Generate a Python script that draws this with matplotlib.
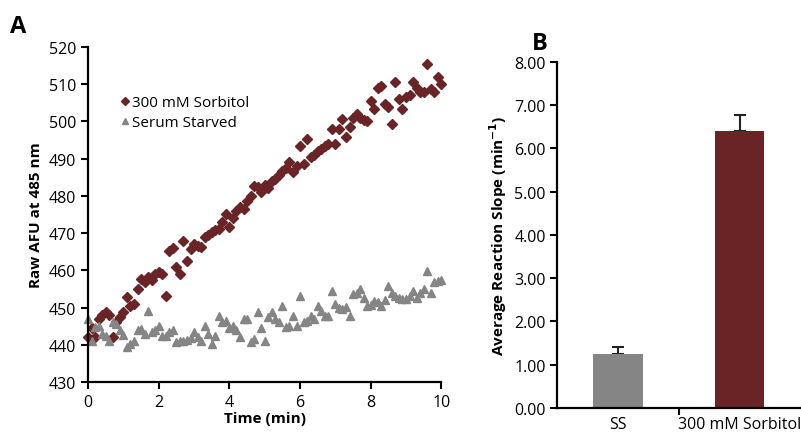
import numpy as np
import matplotlib
matplotlib.use('Agg')
import matplotlib.pyplot as plt

plt.rcParams['font.family'] = ['Open Sans', 'DejaVu Sans']

# panel A: raw fluorescence over time
time_min = [i / 10 for i in range(101)]
sorbitol = [442, 444.5, 442, 447, 448, 448.8, 448, 442, 446, 447.4,
            448.8, 452.8, 450.4, 451, 455, 457.6, 457, 458.3, 457.4, 459,
            459.5, 459, 453, 465.2, 466, 460.9, 459, 467.8, 462.5, 465.7,
            467, 466.5, 466.2, 469, 469.5, 470.3, 470.8, 471, 473, 475,
            471.6, 474, 476, 477, 476.5, 478.6, 480, 482.6, 482.4, 481,
            483, 482, 484, 484.5, 485.5, 486.7, 487.5, 489, 486.4, 488,
            493.4, 488.5, 495.3, 490.4, 491, 492, 492.5, 493.4, 494, 498,
            494, 498, 500.6, 495.8, 498.5, 501, 502, 501, 500.5, 500,
            505.5, 503.3, 509, 509.5, 504.7, 504, 499.3, 510.6, 506, 503.3,
            506.6, 507, 510.6, 509, 508, 507.9, 515.4, 508.7, 508, 512, 510]
serum = [447, 441, 444.7, 445, 443, 442.3, 441, 446, 445.5, 444,
         442.5, 439.4, 440.2, 441, 444, 444.3, 442.8, 449, 443.4, 444,
         445, 442.3, 442.3, 443.5, 444, 440.7, 441, 441, 441.2, 441.8,
         443.4, 442, 441, 445, 443, 440.2, 442.3, 447.6, 446, 446.5,
         444.5, 445, 444, 442, 446.8, 446.8, 440.7, 441.5, 448.8, 444.5,
         441, 447.4, 448.8, 447, 446, 450.4, 444.7, 445, 447.6, 445,
         453, 446, 446.5, 447.6, 447, 450.4, 449, 447.6, 447.6, 454.4,
         451, 450, 449.5, 450.1, 447.6, 453.6, 453.8, 455, 452.5, 450.4,
         450.8, 451.7, 451.5, 450.4, 452, 455.8, 454, 453, 452.5, 452.3,
         452.3, 453, 454.4, 452.5, 454, 455, 459.8, 454, 457, 457.2, 457.5]

# panel B: average slopes
groups = ['SS', '300 mM Sorbitol']
slopes = [1.25, 6.40]
slope_err = [0.17, 0.36]

red = '#6a2426'
grey = '#858585'

fig = plt.figure(figsize=(8.01, 4.35), dpi=100)

axA = fig.add_axes([0.110, 0.1195, 0.441, 0.7702])
axA.plot(time_min, sorbitol, linestyle='none', marker='D', markersize=4.8,
         color=red, label='300 mM Sorbitol', clip_on=False)
axA.plot(time_min, serum, linestyle='none', marker='^', markersize=6,
         color=grey, label='Serum Starved', clip_on=False)
axA.set_xlim(0, 10)
axA.set_ylim(430, 520)
axA.set_xticks([0, 2, 4, 6, 8, 10])
axA.set_yticks(np.arange(430, 521, 10))
axA.set_xlabel('Time (min)', fontsize=11, fontweight='bold', labelpad=1)
axA.set_ylabel('Raw AFU at 485 nm', fontsize=11, fontweight='bold', labelpad=4)
axA.legend(loc='upper left', bbox_to_anchor=(0.065, 0.875), frameon=False,
           fontsize=11, handletextpad=0.0, handlelength=1.0, labelspacing=0.35,
           markerscale=0.8, borderaxespad=0)

axB = fig.add_axes([0.696, 0.0598, 0.303, 0.7961])
x = np.arange(len(groups))
axB.bar(x, slopes, width=0.41, color=[grey, red], zorder=2)
axB.errorbar(x, slopes, yerr=[[0, 0], slope_err], fmt='none', ecolor='#222222',
             elinewidth=1.5, capsize=4, capthick=1.5, zorder=1)
axB.set_xlim(-0.5, 1.5)
axB.set_ylim(0, 8)
axB.set_yticks(np.arange(0, 8.01, 1))
axB.set_yticklabels(['%.2f' % v for v in np.arange(0, 8.01, 1)])
axB.set_xticks(x)
axB.set_xticklabels(groups)
axB.set_xticks([0.5], minor=True)
axB.tick_params(axis='x', which='major', length=0, pad=6)
axB.tick_params(axis='x', which='minor', length=5, width=1.5)
axB.set_ylabel('Average Reaction Slope (min$^{\\mathbf{-1}}$)', fontsize=11,
               fontweight='bold', labelpad=4)

for ax in (axA, axB):
    ax.spines['top'].set_visible(False)
    ax.spines['right'].set_visible(False)
    ax.spines['left'].set_linewidth(1.6)
    ax.spines['bottom'].set_linewidth(1.6)
    ax.tick_params(axis='both', which='major', labelsize=11.5, direction='out',
                   width=1.5, color='black')
axA.tick_params(axis='both', length=5)
axB.tick_params(axis='y', length=5)

fig.text(0.012, 0.925, 'A', fontsize=17, fontweight='bold')
fig.text(0.664, 0.884, 'B', fontsize=17, fontweight='bold')

fig.savefig('out.png', dpi=100)
